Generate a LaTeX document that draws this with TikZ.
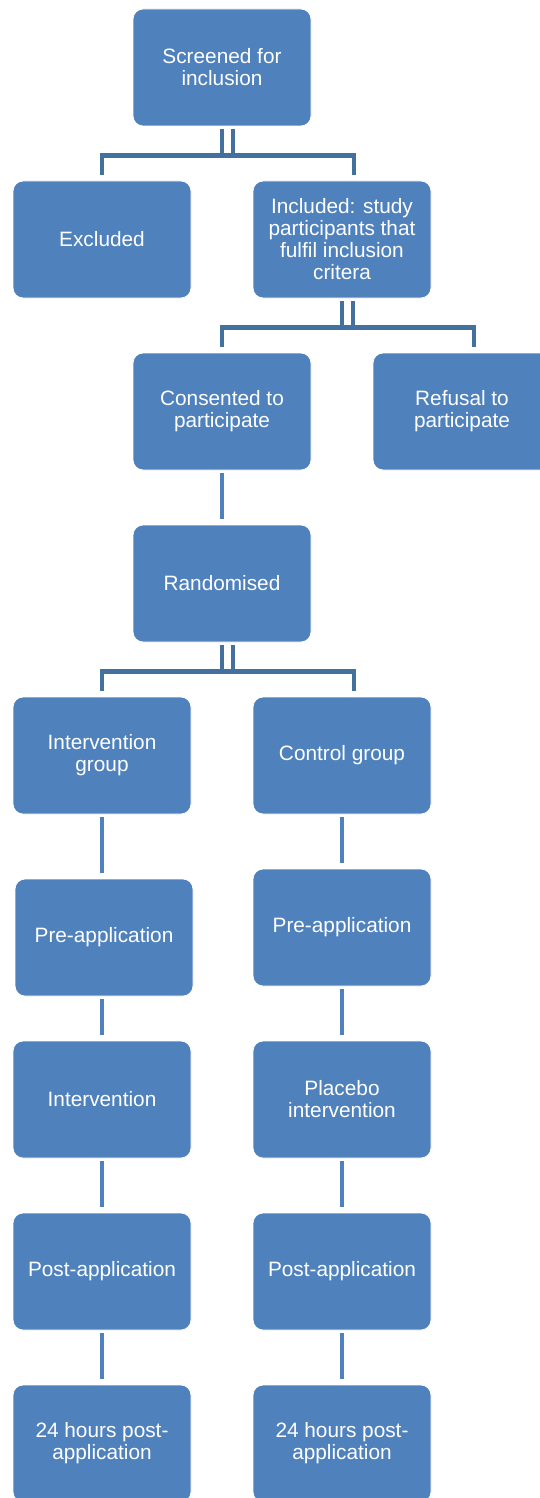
\documentclass[tikz,border=0pt]{standalone}
\usepackage{fontspec}
\setmainfont{Liberation Sans}
\usepackage{xcolor}
\usepackage{tikz}
\usetikzlibrary{positioning,calc}
\definecolor{boxfill}{HTML}{4F81BD}
\definecolor{elbowline}{HTML}{41719C}

\begin{document}
\begin{tikzpicture}[x=1pt, y=-1pt,
  stagebox/.style={draw=white, line width=0.8pt, fill=boxfill, rounded corners=10pt, minimum width=178pt, minimum height=117pt, inner sep=2pt, align=center, text=white, font=\fontsize{20.8}{22}\selectfont},
  elbow/.style={draw=elbowline, line width=4.8pt, shorten <=3pt, shorten >=6pt},
  bridge/.style={draw=elbowline, line width=4.8pt},
  link/.style={draw=boxfill, line width=4.8pt, shorten <=3pt, shorten >=6pt}
]
  \clip (0,0) rectangle (540,1498);
  \fill[white] (0,0) rectangle (540,1498);

  \node[stagebox] (scr) at (222,67.5) {Screened for\\inclusion};
  \node[stagebox] (exc) at (102,239.5) {Excluded};
  \node[stagebox] (inc) at (342,239.5) {Included: study\\participants that\\fulfil inclusion\\critera};
  \node[stagebox] (con) at (222,411.5) {Consented to\\participate};
  \node[stagebox] (ref) at (462,411.5) {Refusal to\\participate};
  \node[stagebox] (ran) at (222,583.5) {Randomised};
  \node[stagebox] (intg) at (102,755.5) {Intervention\\group};
  \node[stagebox] (ctrl) at (342,755.5) {Control group};
  \node[stagebox] (prel) at (104,937.5) {Pre-application};
  \node[stagebox] (prer) at (342,927.5) {Pre-application};
  \node[stagebox] (intv) at (102,1099.5) {Intervention};
  \node[stagebox] (plac) at (342,1099.5) {Placebo\\intervention};
  \node[stagebox] (postl) at (102,1271.5) {Post-application};
  \node[stagebox] (postr) at (342,1271.5) {Post-application};
  \node[stagebox] (hrsl) at (102,1443.5) {24 hours post-\\application};
  \node[stagebox] (hrsr) at (342,1443.5) {24 hours post-\\application};

  \draw[elbow] (scr.south) -- ++(0,29) -| (exc.north);
  \draw[elbow] ([xshift=11pt]scr.south) -- ++(0,29) -| ([xshift=12pt]inc.north);
  \draw[bridge] ($(scr.south)+(0,29)$) -- ++(11,0);
  \draw[elbow] (inc.south) -- ++(0,29) -| (con.north);
  \draw[elbow] ([xshift=11pt]inc.south) -- ++(0,29) -| ([xshift=12pt]ref.north);
  \draw[bridge] ($(inc.south)+(0,29)$) -- ++(11,0);
  \draw[elbow] (ran.south) -- ++(0,29) -| (intg.north);
  \draw[elbow] ([xshift=11pt]ran.south) -- ++(0,29) -| ([xshift=12pt]ctrl.north);
  \draw[bridge] ($(ran.south)+(0,29)$) -- ++(11,0);

  \draw[link] (con.south) -- (ran.north);
  \draw[link] (intg.south) -- (intg.south |- prel.north);
  \draw[link] (prel.south -| intv.north) -- (intv.north);
  \draw[link] (intv.south) -- (postl.north);
  \draw[link] (postl.south) -- (hrsl.north);
  \draw[link] (ctrl.south) -- (prer.north);
  \draw[link] (prer.south) -- (plac.north);
  \draw[link] (plac.south) -- (postr.north);
  \draw[link] (postr.south) -- (hrsr.north);
\end{tikzpicture}
\end{document}
